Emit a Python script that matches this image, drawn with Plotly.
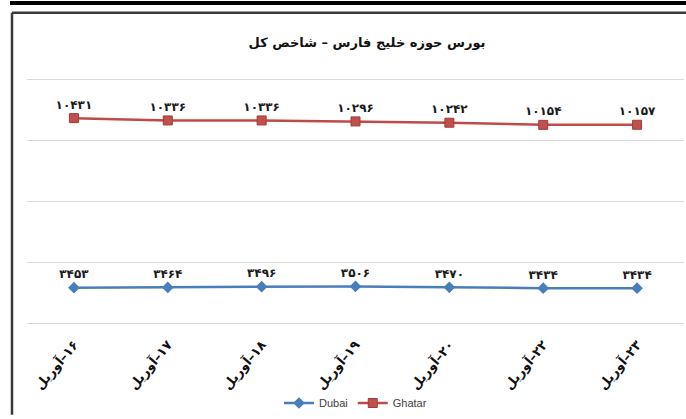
import plotly.graph_objects as go

days = [16, 17, 18, 19, 20, 22, 23]
month = "آوریل"
dubai = [3453, 3464, 3496, 3506, 3470, 3434, 3434]
ghatar = [10431, 10336, 10336, 10296, 10242, 10154, 10157]
title_text = "بورس حوزه خلیج فارس – شاخص کل"

FA = "۰۱۲۳۴۵۶۷۸۹"
def fa(n):
    return "".join(FA[int(c)] for c in str(n))

categories = ["\u200F" + fa(d) + "–" + month for d in days]

W, H = 686, 419
L, R, T, B = 27, 2, 80, 93
PW, PH = W - L - R, H - T - B

def px(x):
    return (x - L) / PW

def py(y):
    return (H - B - y) / PH

label_font = dict(family="DejaVu Sans", size=12, color="#1a1a1a", weight="bold")

fig = go.Figure()
fig.add_trace(go.Scatter(
    x=categories, y=dubai, name="Dubai", mode="lines+markers+text",
    line=dict(color="#4A7EBB", width=2.5),
    marker=dict(symbol="diamond", size=9, color="#4A7EBB"),
    text=[fa(v) for v in dubai], textposition="top center",
    textfont=label_font,
))
fig.add_trace(go.Scatter(
    x=categories, y=ghatar, name="Ghatar", mode="lines+markers+text",
    line=dict(color="#BE4B48", width=2.5),
    marker=dict(symbol="square", size=9, color="#C0504D", line=dict(color="#A33A37", width=1)),
    text=[fa(v) for v in ghatar], textposition="top center",
    textfont=label_font,
))

fig.update_layout(
    width=W, height=H,
    margin=dict(l=L, r=R, t=T, b=B),
    paper_bgcolor="white", plot_bgcolor="white",
    title=dict(text=title_text, x=367 / W, xref="container", xanchor="center",
               y=1 - 42 / H, yref="container", yanchor="middle",
               font=dict(family="DejaVu Sans", size=13, color="#111", weight="bold")),
    showlegend=True,
    legend=dict(orientation="h", x=0.5, xanchor="center", y=py(407), yanchor="middle",
                font=dict(family="Liberation Sans", size=11, color="#404040"),
                bgcolor="rgba(0,0,0,0)", itemwidth=30),
    xaxis=dict(type="category", showgrid=False, showline=True, mirror=True,
               linecolor="#D9D9D9", linewidth=1, ticks="", tickangle=-50,
               ticklabelstandoff=8,
               tickfont=dict(family="DejaVu Sans", size=13, color="#111", weight="bold"),
               range=[-0.5, 6.5], fixedrange=True),
    yaxis=dict(range=[2000, 12000], tick0=2000, dtick=2500, showgrid=True,
               gridcolor="#D9D9D9", gridwidth=1, showticklabels=False, ticks="",
               zeroline=False, showline=False),
    shapes=[
        dict(type="rect", xref="paper", yref="paper", x0=px(10), x1=px(686), y0=py(0), y1=py(4),
             fillcolor="black", line=dict(width=0), layer="above"),
        dict(type="line", xref="paper", yref="paper", x0=px(12), x1=px(686), y0=py(12), y1=py(12),
             line=dict(color="#3a3a3a", width=2.5)),
        dict(type="line", xref="paper", yref="paper", x0=px(12), x1=px(12), y0=py(12), y1=py(419),
             line=dict(color="#3a3a3a", width=2.5)),
    ],
)

fig.write_html("out.html", config={"displayModeBar": False},
               post_script="document.body.style.margin='0';document.body.style.overflow='hidden';")
